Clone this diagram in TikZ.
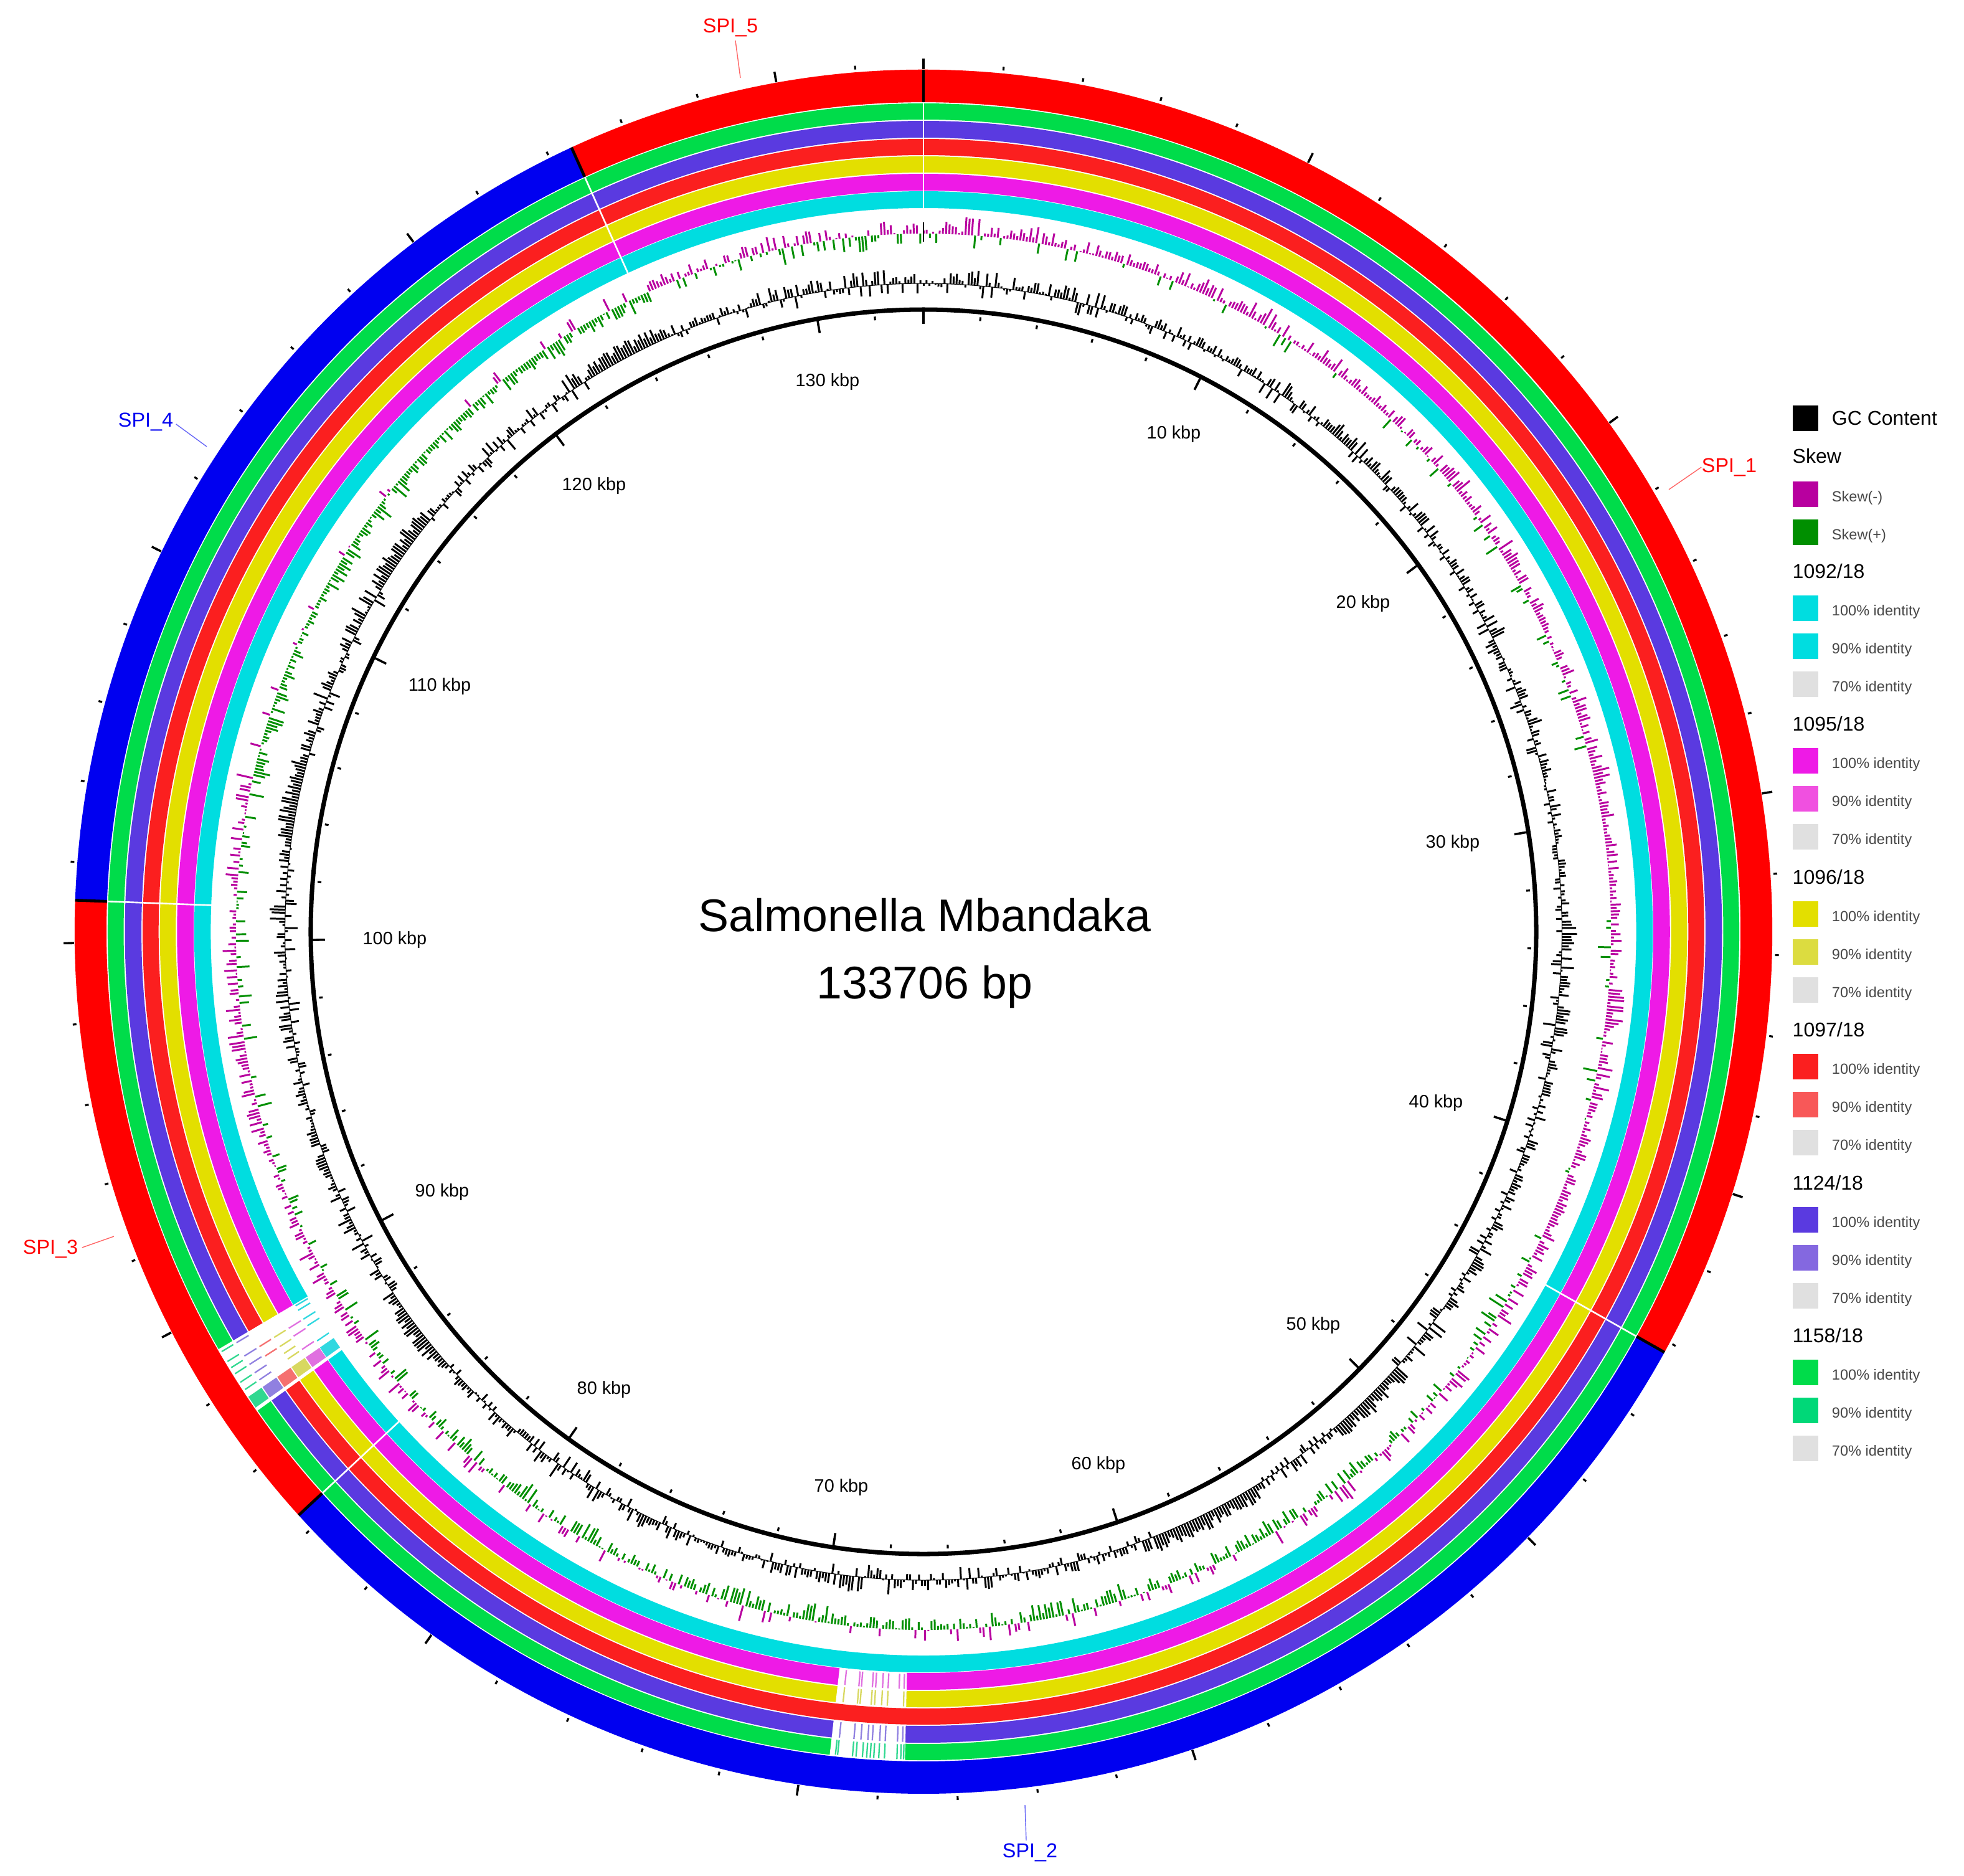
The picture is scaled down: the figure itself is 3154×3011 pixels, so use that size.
\documentclass[tikz,border=0pt]{standalone}
\usepackage{fontspec}
\setmainfont{Liberation Sans}
\usetikzlibrary{positioning}
\definecolor{cycol}{HTML}{00DDE0}
\definecolor{macol}{HTML}{EE1AE6}
\definecolor{yecol}{HTML}{E3DF00}
\definecolor{recol}{HTML}{FB1F1F}
\definecolor{pucol}{HTML}{5A3AE0}
\definecolor{grcol}{HTML}{00DC4A}
\definecolor{cypale}{HTML}{30D8E0}
\definecolor{mapale}{HTML}{E070E0}
\definecolor{yepale}{HTML}{D8D860}
\definecolor{repale}{HTML}{F57070}
\definecolor{pupale}{HTML}{9080E0}
\definecolor{grpale}{HTML}{30D890}
\definecolor{skewneg}{HTML}{B8009F}
\definecolor{skewpos}{HTML}{008F00}
\definecolor{spired}{HTML}{FF0000}
\definecolor{spiblue}{HTML}{0000F0}
\newcommand{\ringseg}[5]{\fill[#5] (#3-90:#2) arc[start angle=#3-90,end angle=#4-90,radius=#2]
  -- (#4-90:#1) arc[start angle=#4-90,end angle=#3-90,radius=#1] -- cycle;}
\begin{document}
\begin{tikzpicture}[x=0.01cm,y=-0.01cm,
    bigtext/.style={inner sep=0pt,anchor=west,font=\fontsize{9.1}{11}\selectfont},
    subtext/.style={inner sep=0pt,yshift=-0.06cm,text=black!72,font=\fontsize{6.7}{8}\selectfont},
    swatch/.style={inner sep=0pt,minimum size=0.41cm,anchor=center},
    kbptext/.style={inner sep=0pt,font=\fontsize{8.2}{10}\selectfont},
    spitext/.style={inner sep=0pt,font=\fontsize{9.2}{11}\selectfont},
    titletext/.style={inner sep=0pt,font=\fontsize{20.9}{25}\selectfont},
    cutline/.style={line width=0.75pt},
    gcbar/.style={black,line width=0.85pt},
    negbar/.style={skewneg,line width=0.85pt},
    posbar/.style={skewpos,line width=0.85pt},
    gapdash/.style={line width=0.65pt}]
  \useasboundingbox (0,0) rectangle (3154,3011);
  \begin{scope}[shift={(1483,1496)},xscale=0.985]
    % rings
    \ringseg{1332}{1384}{-24.5}{119.2}{spired}
    \ringseg{1332}{1384}{119.2}{227.4}{spiblue}
    \ringseg{1332}{1384}{227.4}{272.1}{spired}
    \ringseg{1332}{1384}{272.1}{335.5}{spiblue}
    \foreach \ra/\rb/\col in {1304/1330/grcol,1275/1302/pucol,1247/1273/recol,
        1219/1245/yecol,1190/1217/macol,1162/1189/cycol} {
      \ringseg{\ra}{\rb}{0}{360}{\col}
    }
    \foreach \a in {0,119.2,227.4,272.1,335.5} {
      \draw[white,cutline] (\a-90:1160) -- (\a-90:1331);
      \draw[black,line width=1.3pt] (\a-90:1332) -- (\a-90:1384);
    }
    % large gap
    \ringseg{1160}{1331}{234.7}{239.75}{white}
    \foreach \ra/\rb/\col in {1304/1330/grpale,1275/1302/pupale,1247/1273/repale,
        1219/1245/yepale,1190/1217/mapale,1162/1189/cypale} {
      \ringseg{\ra}{\rb}{234.95}{235.85}{\col}
    }
    \foreach \a in {239.6,239.2,238.4,237.8,236.4} \draw[gapdash,cypale] (\a-90:1164) -- (\a-90:1187);
    \foreach \a in {238.4,237.7,236.5} \draw[gapdash,mapale] (\a-90:1192) -- (\a-90:1215);
    \foreach \a in {238.4,237.6,237,236.5} \draw[gapdash,yepale] (\a-90:1221) -- (\a-90:1243);
    \foreach \a in {238.4,237.6} \draw[gapdash,repale] (\a-90:1249) -- (\a-90:1271);
    \foreach \a in {239.5,238.4,237.7,237,236.4} \draw[gapdash,pupale] (\a-90:1277) -- (\a-90:1300);
    \foreach \a in {239.5,238.7,238.2,237.7,237,236.4} \draw[gapdash,grpale] (\a-90:1306) -- (\a-90:1328);
    % small gap
    \ringseg{1189.5}{1246}{181.3}{186.6}{white}
    \ringseg{1274}{1331}{181.3}{186.6}{white}
    \foreach \b in {6.05,4.97,4.77,3.93,3.68,3.15,2.72,1.87,1.49} {
      \draw[gapdash,mapale] (180+\b-90:1192) -- (180+\b-90:1216);
    }
    \foreach \b in {6.05,4.97,4.77,3.93,3.68,3.15,2.72,1.5} {
      \draw[gapdash,yepale] (180+\b-90:1220) -- (180+\b-90:1244);
    }
    \foreach \b in {6.05,5,4.5,4,3.68,3.15,2.75,1.87,1.5} {
      \draw[gapdash,pupale] (180+\b-90:1276) -- (180+\b-90:1301);
    }
    \foreach \b in {6.2,6.05,5,4.75,4.3,4,3.75,3.5,3.15,2.75,1.87,1.6,1.4} {
      \draw[gapdash,grpale] (180+\b-90:1305) -- (180+\b-90:1329);
    }
    % skew
    \pgfmathsetseed{1092}
    \foreach \i in {0,...,1336} {
      \pgfmathsetmacro\a{\i*0.26926-90}
      \pgfmathsetmacro\k{\i/10}
      \pgfmathsetmacro\pm{\k<45?0.88:(\k<55?0.55:(\k<80?0.22:(\k<85?0.4:(\k<105?0.75:(\k<125?0.15:0.68)))))}
      \pgfmathsetmacro\u{rnd}
      \pgfmathsetmacro\env{0.55+0.45*abs(sin(\i*7.3)*sin(\i*2.1+40))}
      \pgfmathsetmacro\len{1.5+28*\u*\env}
      \pgfmathsetmacro\s{rnd}
      \ifdim\s pt<\pm pt
        \draw[negbar] (\a:1121) -- (\a:{1121+\len});
      \else
        \draw[posbar] (\a:1121) -- (\a:{1121-\len});
      \fi
    }
    \draw[black,line width=0.3pt] (-90:1108) -- (-90:1139);
    % gc content
    \draw[black,line width=0.3pt] (0,0) circle[radius=1041];
    \foreach \i in {0,...,1336} {
      \pgfmathsetmacro\a{\i*0.26926-90}
      \pgfmathsetmacro\k{\i/10}
      \pgfmathsetmacro\boost{((\k>122&&\k<125)||(\k>112&&\k<115)||(\k>103&&\k<106)||(\k>49&&\k<52)||(\k>55&&\k<59)||(\k>85&&\k<87))?1:0}
      \pgfmathsetmacro\u{rnd}
      \pgfmathsetmacro\s{rnd}
      \pgfmathsetmacro\env{0.5+0.5*abs(sin(\i*5.1)*sin(\i*1.7+20))}
      \ifdim\boost pt>0pt
        \pgfmathsetmacro\len{9+18*\u}
      \else
        \pgfmathsetmacro\len{\s<0.7?(2+26*\u*\env):(-2-20*\u*\env)}
      \fi
      \draw[gcbar] (\a:1041) -- (\a:{1041+\len});
    }
    % inner circle and ticks
    \draw[black,line width=2pt] (0,0) circle[radius=999];
    \foreach \t in {0,2,...,132} {
      \pgfmathsetmacro\a{\t/133.706*360-90}
      \draw[black,line width=0.9pt] (\a:1389) -- (\a:1395);
      \draw[black,line width=0.9pt] (\a:985) -- (\a:991);
    }
    \foreach \t in {0,10,...,130} {
      \pgfmathsetmacro\a{\t/133.706*360-90}
      \draw[black,line width=1pt] (\a:1385) -- (\a:1402);
      \draw[black,line width=1pt] (\a:976) -- (\a:996);
    }
  \end{scope}
  % kbp labels
  \foreach \lab/\px/\py in {10/1885/697,20/2189/969,30/2333/1354,40/2306/1771,50/2109/2128,
      60/1764/2352,70/1351/2388,80/970/2231,90/710/1914,100/634/1509,110/706/1102,120/954/780,130/1329/613} {
    \node[kbptext] (kbp\lab) at (\px,\py) {\lab\ kbp};
  }
  \node[titletext] (title) at (1485,1469) {Salmonella Mbandaka};
  \node[titletext] (length) at (1485,1584) {133706 bp};
  % spi labels
  \node[spitext,text=spired] (spia) at (2777,750) {SPI\_1};
  \node[spitext,text=spiblue] (spib) at (1654,2974) {SPI\_2};
  \node[spitext,text=spired] (spic) at (81,2005) {SPI\_3};
  \node[spitext,text=spiblue] (spid) at (234,677) {SPI\_4};
  \node[spitext,text=spired] (spie) at (1173,44) {SPI\_5};
  \coordinate (enda) at (2680,786);
  \coordinate (endb) at (1646,2898);
  \coordinate (endc) at (183,1985);
  \coordinate (endd) at (332,717);
  \coordinate (ende) at (1189,125);
  \draw[spired!60,line width=0.4pt] (spia.west) -- (enda);
  \draw[spiblue!60,line width=0.4pt] (spib.north) ++(-6,-4) -- (endb);
  \draw[spired!60,line width=0.4pt] (spic.east) ++(6,-2) -- (endc);
  \draw[spiblue!60,line width=0.4pt] (spid.east) ++(4,4) -- (endd);
  \draw[spired!60,line width=0.4pt] (spie.south) ++(8,6) -- (ende);
  % legend
  \node[swatch,fill=black] (swgc) at (2899,671) {};
  \node[bigtext,right=0.21cm of swgc] (labgc) {GC Content};
  \node[bigtext] (headskew) at (2878,732) {Skew};
  \node[swatch,fill=skewneg] (swneg) at (2899,793) {};
  \node[subtext,right=0.21cm of swneg] (labneg) {Skew(-)};
  \node[swatch,fill=skewpos] (swpos) at (2899,854) {};
  \node[subtext,right=0.21cm of swpos] (labpos) {Skew(+)};
  \foreach \name/\cola/\colb [count=\n from 0] in {1092/cycol/00DDE0,1095/macol/F050E0,1096/yecol/DCDC40,
      1097/recol/F85858,1124/pucol/8468E0,1158/grcol/00D878} {
    \pgfmathsetmacro\yh{917+245.5*\n}
    \definecolor{legb}{HTML}{\colb}
    \node[bigtext] (head\n) at (2878,\yh) {\name/18};
    \node[swatch,fill=\cola] (swa\n) at (2899,\yh+59) {};
    \node[swatch,fill=legb] (swb\n) at (2899,\yh+120) {};
    \node[swatch,fill=black!12] (swc\n) at (2899,\yh+181) {};
    \node[subtext,right=0.21cm of swa\n] (laba\n) {100\% identity};
    \node[subtext,right=0.21cm of swb\n] (labb\n) {90\% identity};
    \node[subtext,right=0.21cm of swc\n] (labc\n) {70\% identity};
  }
\end{tikzpicture}
\end{document}
